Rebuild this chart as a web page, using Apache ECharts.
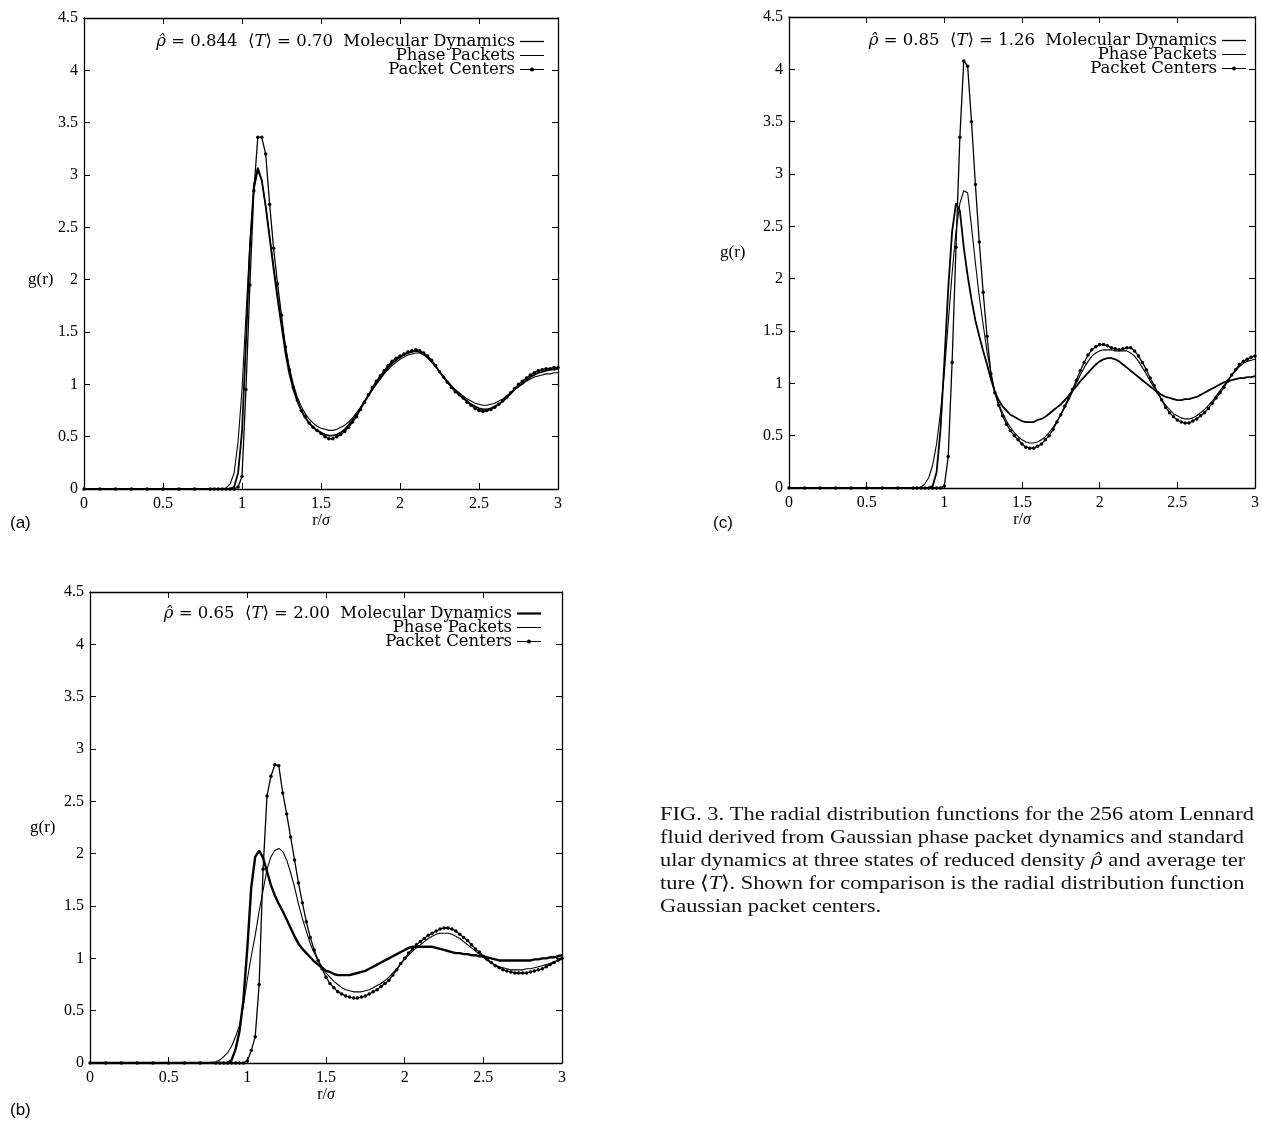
<!DOCTYPE html>
<html>
<head>
<meta charset="utf-8">
<script src="https://cdn.jsdelivr.net/npm/echarts@6/dist/echarts.min.js"></script>
<style>html,body{margin:0;padding:0;background:#fff;}#c{width:1262px;height:1125px;}</style>
</head>
<body>
<div id="c"></div>
<script>
// r/sigma sample positions
const r = [0,0.1,0.2,0.3,0.4,0.5,0.6,0.7,
0.8,0.825,0.85,0.875, 0.9,0.925,0.95,0.975, 1.0,1.025,1.05,1.075, 1.1,1.125,1.15,1.175,
1.2,1.225,1.25,1.275, 1.3,1.325,1.35,1.375, 1.4,1.425,1.45,1.475, 1.5,1.525,1.55,1.575,
1.6,1.625,1.65,1.675, 1.7,1.725,1.75,1.775, 1.8,1.825,1.85,1.875, 1.9,1.925,1.95,1.975,
2.0,2.025,2.05,2.075, 2.1,2.125,2.15,2.175, 2.2,2.225,2.25,2.275, 2.3,2.325,2.35,2.375,
2.4,2.425,2.45,2.475, 2.5,2.525,2.55,2.575, 2.6,2.625,2.65,2.675, 2.7,2.725,2.75,2.775,
2.8,2.825,2.85,2.875, 2.9,2.925,2.95,2.975, 3.0];

// Panel (a): rho=0.844, T=0.70
const aMD = [0,0,0,0,0,0,0,0,
0,0,0,0, 0,0,0.02,0.15, 0.55,1.4,2.3,2.9, 3.07,2.95,2.7,2.4,
2.1,1.82,1.56,1.3, 1.1,0.95,0.84,0.75, 0.68,0.63,0.59,0.56, 0.54,0.52,0.51,0.51,
0.52,0.54,0.57,0.61, 0.66,0.71,0.77,0.83, 0.89,0.95,1.01,1.06, 1.11,1.16,1.2,1.23,
1.26,1.28,1.3,1.31, 1.32,1.31,1.29,1.26, 1.22,1.17,1.12,1.07, 1.02,0.98,0.94,0.9,
0.87,0.84,0.81,0.79, 0.77,0.76,0.76,0.77, 0.79,0.81,0.84,0.87, 0.91,0.95,0.98,1.01,
1.04,1.07,1.09,1.11, 1.12,1.13,1.14,1.14, 1.15];
const aPP = [0,0,0,0,0,0,0,0,
0,0,0,0, 0.01,0.05,0.15,0.45, 0.95,1.65,2.35,2.85, 3.04,2.95,2.7,2.42,
2.13,1.85,1.6,1.36, 1.16,1.0,0.88,0.79, 0.72,0.67,0.63,0.6, 0.58,0.57,0.56,0.56,
0.57,0.59,0.61,0.64, 0.68,0.73,0.78,0.84, 0.9,0.95,1.0,1.05, 1.1,1.14,1.18,1.21,
1.24,1.26,1.28,1.29, 1.3,1.3,1.28,1.25, 1.21,1.17,1.12,1.08, 1.03,0.99,0.95,0.92,
0.89,0.86,0.84,0.82, 0.81,0.8,0.8,0.81, 0.82,0.84,0.86,0.89, 0.92,0.95,0.98,1.0,
1.03,1.05,1.07,1.08, 1.09,1.1,1.1,1.11, 1.11];
const aPC = [0,0,0,0,0,0,0,0,
0,0,0,0, 0,0,0,0.02, 0.12,0.95,1.95,2.85, 3.36,3.36,3.2,2.72,
2.3,1.96,1.66,1.36, 1.14,0.97,0.85,0.75, 0.69,0.63,0.59,0.56, 0.53,0.5,0.48,0.48,
0.5,0.52,0.55,0.59, 0.64,0.69,0.76,0.83, 0.9,0.97,1.03,1.08, 1.13,1.18,1.22,1.25,
1.27,1.29,1.31,1.32, 1.33,1.32,1.3,1.27, 1.23,1.18,1.12,1.07, 1.02,0.97,0.93,0.9,
0.87,0.83,0.8,0.77, 0.75,0.74,0.75,0.76, 0.78,0.81,0.84,0.88, 0.92,0.96,1.0,1.03,
1.06,1.09,1.11,1.13, 1.14,1.15,1.15,1.16, 1.16];

// Panel (c): rho=0.85, T=1.26
const cMD = [0,0,0,0,0,0,0,0,
0,0,0,0, 0,0.02,0.15,0.55, 1.2,1.9,2.45,2.72, 2.65,2.3,2.03,1.8,
1.6,1.45,1.31,1.18, 1.04,0.92,0.84,0.78, 0.74,0.7,0.68,0.66, 0.64,0.63,0.63,0.63,
0.65,0.66,0.68,0.71, 0.74,0.77,0.8,0.84, 0.88,0.93,0.97,1.02, 1.06,1.1,1.14,1.18,
1.21,1.23,1.24,1.24, 1.23,1.21,1.18,1.15, 1.12,1.09,1.06,1.03, 1.0,0.97,0.94,0.91,
0.89,0.87,0.86,0.85, 0.84,0.84,0.85,0.85, 0.86,0.87,0.89,0.91, 0.93,0.95,0.97,0.99,
1.01,1.02,1.03,1.04, 1.05,1.05,1.06,1.06, 1.07];
const cPP = [0,0,0,0,0,0,0,0,
0,0,0.01,0.04, 0.1,0.22,0.42,0.72, 1.1,1.58,2.05,2.45, 2.72,2.84,2.82,2.5,
2.15,1.83,1.56,1.3, 1.1,0.92,0.8,0.72, 0.64,0.58,0.53,0.49, 0.46,0.44,0.43,0.43,
0.44,0.46,0.49,0.53, 0.58,0.64,0.7,0.77, 0.84,0.92,1.0,1.08, 1.15,1.21,1.26,1.29,
1.31,1.32,1.32,1.32, 1.31,1.31,1.31,1.31, 1.29,1.26,1.21,1.15, 1.09,1.02,0.96,0.9,
0.84,0.79,0.75,0.71, 0.69,0.67,0.66,0.66, 0.67,0.69,0.72,0.75, 0.79,0.83,0.88,0.93,
0.98,1.03,1.08,1.12, 1.16,1.19,1.21,1.22, 1.23];
const cPC = [0,0,0,0,0,0,0,0,
0,0,0,0, 0,0,0,0, 0.02,0.3,1.2,2.3, 3.35,4.08,4.03,3.5,
2.9,2.35,1.87,1.45, 1.09,0.91,0.79,0.69, 0.61,0.55,0.5,0.46, 0.42,0.39,0.38,0.38,
0.4,0.42,0.46,0.5, 0.56,0.63,0.7,0.78, 0.86,0.94,1.03,1.12, 1.2,1.27,1.32,1.35,
1.37,1.37,1.36,1.34, 1.33,1.32,1.33,1.34, 1.34,1.31,1.26,1.2, 1.13,1.05,0.98,0.91,
0.84,0.77,0.72,0.68, 0.65,0.63,0.62,0.62, 0.64,0.66,0.69,0.72, 0.76,0.81,0.86,0.91,
0.96,1.02,1.08,1.13, 1.18,1.21,1.23,1.25, 1.26];

// Panel (b): rho=0.65, T=2.00
const bMD = [0,0,0,0,0,0,0,0,
0,0,0,0, 0.03,0.13,0.3,0.6, 1.1,1.68,1.97,2.03, 1.96,1.83,1.7,1.6,
1.52,1.45,1.37,1.29, 1.21,1.14,1.09,1.05, 1.01,0.97,0.94,0.91, 0.88,0.87,0.85,0.84,
0.84,0.84,0.84,0.85, 0.86,0.87,0.88,0.9, 0.92,0.94,0.96,0.98, 1.0,1.02,1.04,1.06,
1.08,1.1,1.11,1.11, 1.11,1.11,1.11,1.11, 1.1,1.09,1.08,1.07, 1.06,1.05,1.05,1.04,
1.04,1.03,1.03,1.02, 1.02,1.01,1.0,0.99, 0.98,0.98,0.98,0.98, 0.98,0.98,0.98,0.98,
0.98,0.99,0.99,1.0, 1.0,1.01,1.01,1.02, 1.03];
const bPP = [0,0,0,0,0,0,0,0,
0.01,0.03,0.06,0.1, 0.16,0.25,0.36,0.55, 0.8,1.02,1.22,1.45, 1.65,1.85,1.97,2.03,
2.05,2.02,1.94,1.82, 1.68,1.52,1.38,1.26, 1.14,1.05,0.98,0.92, 0.86,0.82,0.78,0.75,
0.72,0.7,0.69,0.68, 0.68,0.68,0.69,0.7, 0.72,0.74,0.76,0.79, 0.82,0.86,0.9,0.95,
0.99,1.03,1.07,1.1, 1.13,1.16,1.19,1.21, 1.23,1.24,1.24,1.24, 1.23,1.21,1.19,1.16,
1.13,1.1,1.07,1.04, 1.01,0.98,0.96,0.94, 0.92,0.91,0.9,0.89, 0.89,0.89,0.89,0.9,
0.9,0.91,0.92,0.93, 0.94,0.95,0.97,0.98, 0.99];
const bPC = [0,0,0,0,0,0,0,0,
0,0,0,0, 0,0,0,0, 0.02,0.12,0.25,0.75, 1.85,2.55,2.74,2.85,
2.84,2.58,2.38,2.16, 1.94,1.72,1.53,1.35, 1.2,1.08,0.98,0.9, 0.82,0.76,0.72,0.68,
0.66,0.64,0.63,0.62, 0.62,0.63,0.64,0.66, 0.68,0.7,0.73,0.76, 0.79,0.84,0.89,0.95,
1.0,1.05,1.09,1.13, 1.16,1.19,1.22,1.24, 1.26,1.28,1.29,1.29, 1.28,1.26,1.23,1.2,
1.17,1.13,1.09,1.06, 1.02,0.99,0.96,0.93, 0.91,0.89,0.88,0.87, 0.86,0.86,0.86,0.86,
0.87,0.88,0.89,0.9, 0.92,0.94,0.96,0.98, 1.0];

const seriesNames = ['Molecular Dynamics', 'Phase Packets', 'Packet Centers'];
const stateLabels = [
  '{i|ρ\u0302} = 0.844  ⟨{i|T}⟩ = 0.70  ',
  '{i|ρ\u0302} = 0.85  ⟨{i|T}⟩ = 1.26  ',
  '{i|ρ\u0302} = 0.65  ⟨{i|T}⟩ = 2.00  '
];
const panelTags = ['(a)', '(c)', '(b)'];
const xMin = 0, xMax = 3, xStep = 0.5;
const yMin = 0, yMax = 4.5, yStep = 0.5;

const panels = [
  {md: aMD, pp: aPP, pc: aPC, grid: {left: 84, top: 18, width: 474, height: 471}, legendRight: 718, legendTop: 33, mdWidth: 1.8, mdIcon: 1.3, gr: [28, 280], tag: [10, 523]},
  {md: cMD, pp: cPP, pc: cPC, grid: {left: 789, top: 17, width: 472, height: 471}, legendRight: 16, legendTop: 32, mdWidth: 1.8, mdIcon: 1.3, gr: [720, 253], tag: [713, 523]},
  {md: bMD, pp: bPP, pc: bPC, grid: {left: 90, top: 592, width: 472, height: 471}, legendRight: 721, legendTop: 605, mdWidth: 2.4, mdIcon: 2.2, gr: [30, 828], tag: [10, 1110]}
];

const serif = 'Liberation Serif';
const cm = 'DejaVu Serif';
const ink = '#000';

function pairs(vals) { return r.map((x, i) => [x, vals[i]]); }
function barIcon(h) { return 'path://M0,0h24v' + h + 'h-24z'; }
const pcIcon = 'path://M0,2.4h24v1.2h-24z M14,3a2,2 0 1,1 -4,0a2,2 0 1,1 4,0z';

const grid = [], xAxis = [], yAxis = [], series = [], legend = [], graphic = [];

panels.forEach((p, gi) => {
  grid.push(p.grid);
  ['bottom', 'top'].forEach(pos => {
    xAxis.push({
      type: 'value', gridIndex: gi, position: pos, min: xMin, max: xMax, interval: xStep,
      axisLine: {show: true, onZero: false, lineStyle: {color: ink, width: 1.3}},
      axisTick: {show: true, inside: true, length: 6, lineStyle: {color: ink, width: 1}},
      axisLabel: {show: pos === 'bottom', margin: 7, color: ink, fontFamily: serif, fontSize: 16},
      splitLine: {show: false},
      name: pos === 'bottom' ? 'r/{i|σ}' : '',
      nameLocation: 'middle', nameGap: 20,
      nameTextStyle: {color: ink, fontFamily: serif, fontSize: 16,
        rich: {i: {fontStyle: 'italic', fontFamily: serif, fontSize: 16, color: ink}}}
    });
  });
  ['left', 'right'].forEach(pos => {
    yAxis.push({
      type: 'value', gridIndex: gi, position: pos, min: yMin, max: yMax, interval: yStep,
      axisLine: {show: true, onZero: false, lineStyle: {color: ink, width: 1.3}},
      axisTick: {show: true, inside: true, length: 6, lineStyle: {color: ink, width: 1}},
      axisLabel: {show: pos === 'left', margin: 6, color: ink, fontFamily: serif, fontSize: 16},
      splitLine: {show: false}
    });
  });
  const xi = gi * 2, yi = gi * 2;
  series.push({
    type: 'line', name: seriesNames[0], xAxisIndex: xi, yAxisIndex: yi, data: pairs(p.md),
    symbol: 'none', lineStyle: {color: ink, width: p.mdWidth}, itemStyle: {color: ink}, z: 3, animation: false
  });
  series.push({
    type: 'line', name: seriesNames[1], xAxisIndex: xi, yAxisIndex: yi, data: pairs(p.pp),
    symbol: 'none', lineStyle: {color: ink, width: 1.1}, itemStyle: {color: ink}, z: 4, animation: false
  });
  series.push({
    type: 'line', name: seriesNames[2], xAxisIndex: xi, yAxisIndex: yi, data: pairs(p.pc),
    symbol: 'circle', symbolSize: 3.5, showSymbol: true, showAllSymbol: true,
    lineStyle: {color: ink, width: 1.3}, itemStyle: {color: ink}, z: 5, animation: false
  });
  const prefix = stateLabels[gi];
  legend.push({
    data: [
      {name: seriesNames[0], icon: barIcon(p.mdIcon)},
      {name: seriesNames[1], icon: barIcon(1.0)},
      {name: seriesNames[2], icon: pcIcon}
    ],
    orient: 'vertical', align: 'right', right: p.legendRight, top: p.legendTop,
    itemGap: -3, itemWidth: 24, itemHeight: 14, padding: 0, selectedMode: false,
    itemStyle: {color: ink, borderWidth: 0},
    formatter: n => n === seriesNames[0] ? prefix + n : n,
    textStyle: {color: ink, fontFamily: cm, fontSize: 16.5, lineHeight: 14,
      rich: {i: {fontStyle: 'italic', fontFamily: cm, fontSize: 16.5, lineHeight: 14, color: ink}}}
  });
  graphic.push({type: 'text', x: p.gr[0], y: p.gr[1],
    style: {text: 'g(r)', fontFamily: serif, fontSize: 17, fill: ink, verticalAlign: 'middle', align: 'left'}});
  graphic.push({type: 'text', x: p.tag[0], y: p.tag[1],
    style: {text: panelTags[gi], fontFamily: 'Liberation Sans', fontSize: 17, fill: ink, verticalAlign: 'middle', align: 'left'}});
});

const captionLines = [
  'FIG. 3. The radial distribution functions for the 256 atom Lennard',
  'fluid derived from Gaussian phase packet dynamics and standard',
  'ular dynamics at three states of reduced density {g|ρ\u0302} and average ter',
  'ture ⟨{i|T}⟩. Shown for comparison is the radial distribution function',
  'Gaussian packet centers.'
];
const captionY = [815, 838, 861, 884, 907];
graphic.push({
  type: 'group', x: 660, y: 0, scaleX: 1.18, scaleY: 1,
  children: captionLines.map((t, i) => ({
    type: 'text', x: 0, y: captionY[i],
    style: {text: t, fontFamily: serif, fontSize: 19, fill: '#111', verticalAlign: 'middle', align: 'left',
      rich: {
        i: {fontStyle: 'italic', fontFamily: serif, fontSize: 19, fill: '#111'},
        g: {fontStyle: 'italic', fontFamily: cm, fontSize: 17, fill: '#111'}
      }}
  }))
});

const chart = echarts.init(document.getElementById('c'), null, {renderer: 'canvas'});
chart.setOption({
  animation: false,
  backgroundColor: '#fff',
  grid, xAxis, yAxis, series, legend, graphic
});
</script>
</body>
</html>
